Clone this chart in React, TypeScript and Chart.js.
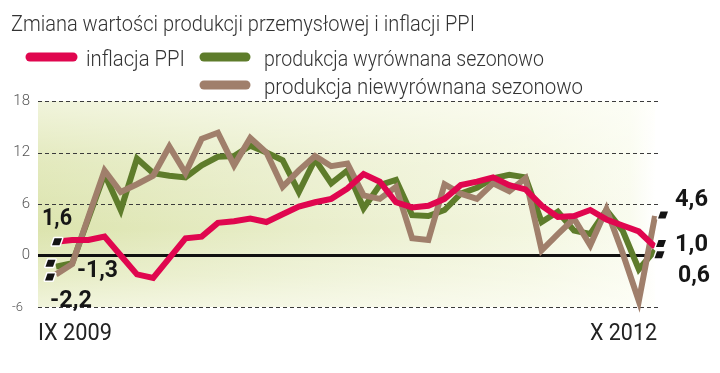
import React, { useEffect, useRef } from "react";
import { Chart, registerables } from "chart.js";

Chart.register(...registerables);

const TITLE = "Zmiana wartości produkcji przemysłowej i inflacji PPI";

const MONTHS = [
  "IX 2009", "X 2009", "XI 2009", "XII 2009",
  "I 2010", "II 2010", "III 2010", "IV 2010", "V 2010", "VI 2010",
  "VII 2010", "VIII 2010", "IX 2010", "X 2010", "XI 2010", "XII 2010",
  "I 2011", "II 2011", "III 2011", "IV 2011", "V 2011", "VI 2011",
  "VII 2011", "VIII 2011", "IX 2011", "X 2011", "XI 2011", "XII 2011",
  "I 2012", "II 2012", "III 2012", "IV 2012", "V 2012", "VI 2012",
  "VII 2012", "VIII 2012", "IX 2012", "X 2012",
];

const PPI = [
  1.6, 1.8, 1.8, 2.2, 0.0, -2.2, -2.6, -0.3, 2.0, 2.2,
  3.8, 4.0, 4.3, 3.9, 4.8, 5.7, 6.2, 6.6, 7.8, 9.5,
  8.6, 6.2, 5.6, 5.8, 6.6, 8.2, 8.6, 9.1, 8.2, 7.7,
  5.8, 4.5, 4.6, 5.3, 4.2, 3.5, 2.8, 1.0,
];

const PROD_SA = [
  -1.3, -0.9, 4.3, 9.5, 5.3, 11.3, 9.6, 9.3, 9.1, 10.5,
  11.5, 11.6, 12.8, 12.0, 11.1, 7.4, 11.2, 8.4, 9.9, 5.5,
  8.2, 8.8, 4.7, 4.6, 5.3, 7.2, 7.9, 9.0, 9.4, 9.1,
  3.9, 5.1, 2.9, 2.5, 5.3, 2.9, -1.6, 0.6,
];

const PROD_NSA = [
  -2.2, -1.0, 4.5, 9.9, 7.4, 8.3, 9.3, 12.7, 9.6, 13.6,
  14.3, 10.5, 13.7, 12.0, 8.0, 9.9, 11.6, 10.4, 10.7, 7.0,
  6.6, 8.0, 2.0, 1.8, 8.3, 7.2, 6.6, 8.4, 7.5, 9.0,
  0.6, 2.5, 4.3, 1.2, 5.4, 0.3, -5.3, 4.6,
];

const Y_TICKS = [-6, 0, 6, 12, 18];

const SERIES_NAMES = [
  "inflacja PPI",
  "produkcja wyrównana sezonowo",
  "produkcja niewyrównana sezonowo",
];

const RED = "#e0064f";
const GREEN = "#5e7c2b";
const BROWN = "#a07f6b";

function fitText(
  ctx: CanvasRenderingContext2D,
  text: string,
  x: number,
  y: number,
  font: string,
  width: number,
  color: string,
  align: "left" | "right" | "center" = "left"
) {
  ctx.save();
  ctx.font = font;
  const w = ctx.measureText(text).width || 1;
  const s = width / w;
  const left = align === "left" ? x : align === "right" ? x - width : x - width / 2;
  ctx.fillStyle = color;
  ctx.textAlign = "left";
  ctx.textBaseline = "alphabetic";
  ctx.translate(left, y);
  ctx.scale(s, 1);
  ctx.fillText(text, 0, 0);
  ctx.restore();
}

function fmt(v: number) {
  return v.toFixed(1).replace(".", ",");
}

function marker(ctx: CanvasRenderingContext2D, cx: number, cy: number) {
  ctx.save();
  ctx.beginPath();
  ctx.moveTo(cx - 2.5, cy - 3.5);
  ctx.lineTo(cx + 5, cy - 3.5);
  ctx.lineTo(cx + 2.5, cy + 3.5);
  ctx.lineTo(cx - 5, cy + 3.5);
  ctx.closePath();
  ctx.lineJoin = "round";
  ctx.lineWidth = 3;
  ctx.strokeStyle = "#ffffff";
  ctx.stroke();
  ctx.fillStyle = "#141414";
  ctx.fill();
  ctx.restore();
}

const decorPlugin = {
  id: "decor",
  beforeDatasetsDraw(chart: any) {
    const { ctx, chartArea } = chart;
    const ys = chart.scales.y;
    const gl = 38;
    const gr = 658;
    const top = ys.getPixelForValue(Y_TICKS[Y_TICKS.length - 1]);
    const bottom = ys.getPixelForValue(Y_TICKS[0]);
    ctx.save();
    // background
    const hg = ctx.createLinearGradient(gl, 0, chartArea.right, 0);
    hg.addColorStop(0, "#dce4ae");
    hg.addColorStop(0.45, "#e9eecb");
    hg.addColorStop(0.8, "#f3f6df");
    hg.addColorStop(0.96, "#f9fbee");
    hg.addColorStop(1, "#ffffff");
    ctx.fillStyle = hg;
    ctx.fillRect(gl, top, chartArea.right - gl, bottom - top);
    const vg = ctx.createLinearGradient(0, top, 0, bottom);
    vg.addColorStop(0, "rgba(255,255,250,0.6)");
    vg.addColorStop(0.3, "rgba(255,255,250,0.2)");
    vg.addColorStop(0.62, "rgba(255,255,255,0)");
    vg.addColorStop(0.85, "rgba(255,255,250,0.3)");
    vg.addColorStop(1, "rgba(255,255,250,0.6)");
    ctx.fillStyle = vg;
    ctx.fillRect(gl, top, chartArea.right - gl, bottom - top);

    // grid
    ctx.setLineDash([4, 3]);
    ctx.strokeStyle = "#3b3b3b";
    ctx.lineWidth = 1.2;
    for (const t of Y_TICKS) {
      if (t === 0) continue;
      const py = Math.round(ys.getPixelForValue(t)) + 0.5;
      ctx.beginPath();
      ctx.moveTo(gl, py);
      ctx.lineTo(gr, py);
      ctx.stroke();
    }
    ctx.setLineDash([]);
    const zy = ys.getPixelForValue(0);
    ctx.strokeStyle = "#111111";
    ctx.lineWidth = 3;
    ctx.beginPath();
    ctx.moveTo(gl, zy);
    ctx.lineTo(chartArea.right, zy);
    ctx.stroke();

    // y tick labels
    for (const t of Y_TICKS) {
      const py = ys.getPixelForValue(t);
      const small = t < 0;
      ctx.font = small ? "300 13px Roboto" : "300 15px Roboto";
      ctx.fillStyle = "#555555";
      ctx.textAlign = "right";
      ctx.textBaseline = "middle";
      ctx.fillText(String(t), small ? 23 : 30, py + (small ? 1 : 0));
    }

    // title
    fitText(ctx, TITLE, 11, 31, "300 22px Roboto", 464, "#333333");

    // legend
    ctx.lineCap = "round";
    ctx.lineWidth = 9;
    const sw = [
      { c: RED, x1: 30, x2: 73, y: 57 },
      { c: GREEN, x1: 204, x2: 246, y: 57 },
      { c: BROWN, x1: 204, x2: 246, y: 85 },
    ];
    for (const s of sw) {
      ctx.strokeStyle = s.c;
      ctx.beginPath();
      ctx.moveTo(s.x1, s.y);
      ctx.lineTo(s.x2, s.y);
      ctx.stroke();
    }
    fitText(ctx, SERIES_NAMES[0], 86, 66, "300 22px Roboto", 99, "#333333");
    fitText(ctx, SERIES_NAMES[1], 264, 66, "300 22px Roboto", 280, "#333333");
    fitText(ctx, SERIES_NAMES[2], 264, 94, "300 22px Roboto", 319, "#333333");

    // x labels
    fitText(ctx, MONTHS[0], 38, 340, "400 23px Roboto", 74, "#222222");
    fitText(ctx, MONTHS[MONTHS.length - 1], 657, 340, "400 23px Roboto", 67, "#222222", "right");
    ctx.restore();
  },
  afterDatasetsDraw(chart: any) {
    const { ctx } = chart;
    const xs = chart.scales.x;
    const ys = chart.scales.y;
    const n = MONTHS.length - 1;
    const x0 = xs.getPixelForValue(0);
    const xn = xs.getPixelForValue(n);
    // start markers
    marker(ctx, x0 + 1, ys.getPixelForValue(PPI[0]));
    marker(ctx, x0 - 5.5, ys.getPixelForValue(PROD_SA[0]) - 3.5);
    marker(ctx, x0 - 6, ys.getPixelForValue(PROD_NSA[0]) + 2.5);
    // end markers
    marker(ctx, xn + 8, ys.getPixelForValue(PROD_NSA[n]) - 1);
    marker(ctx, xn + 6, ys.getPixelForValue(PPI[n]) - 3.5);
    marker(ctx, xn + 4.5, ys.getPixelForValue(PROD_SA[n]) + 4.5);

    const bf = "700 24px Roboto";
    const col = "#161616";
    fitText(ctx, fmt(PPI[0]), x0 + 1, ys.getPixelForValue(PPI[0]) - 17, bf, 30, col, "center");
    fitText(ctx, fmt(PROD_SA[0]), x0 + 21, ys.getPixelForValue(PROD_SA[0]) + 10, bf, 41, col);
    fitText(ctx, fmt(PROD_NSA[0]), x0 - 6, ys.getPixelForValue(PROD_NSA[0]) + 33, bf, 42, col);
    fitText(ctx, fmt(PROD_NSA[n]), xn + 20, ys.getPixelForValue(PROD_NSA[n]) - 10, bf, 33, col);
    fitText(ctx, fmt(PPI[n]), xn + 20, ys.getPixelForValue(PPI[n]) + 4, bf, 33, col);
    fitText(ctx, fmt(PROD_SA[n]), xn + 23, ys.getPixelForValue(PROD_SA[n]) + 32, bf, 32, col);
  },
};

export default function App() {
  const ref = useRef<HTMLCanvasElement | null>(null);
  useEffect(() => {
    document.body.style.margin = "0";
    const canvas = ref.current;
    if (!canvas) return;
    const lineDs = (label: string, data: number[], color: string) => ({
      label,
      data,
      borderColor: color,
      backgroundColor: color,
      borderWidth: 6,
      pointRadius: 0,
      tension: 0,
      borderJoinStyle: "miter" as const,
      borderCapStyle: "butt" as const,
      fill: false,
      clip: false as const,
    });
    const chart = new Chart(canvas, {
      type: "line",
      data: {
        labels: MONTHS,
        datasets: [
          lineDs(SERIES_NAMES[0], PPI, RED),
          lineDs(SERIES_NAMES[2], PROD_NSA, BROWN),
          lineDs(SERIES_NAMES[1], PROD_SA, GREEN),
        ],
      },
      options: {
        responsive: false,
        animation: false,
        devicePixelRatio: 1,
        layout: { padding: { left: 56, right: 65, top: 101, bottom: 66 } },
        scales: {
          x: { type: "category", display: false, offset: false },
          y: { type: "linear", display: false, min: Y_TICKS[0], max: Y_TICKS[Y_TICKS.length - 1] },
        },
        plugins: {
          legend: { display: false },
          tooltip: { enabled: false },
          title: { display: false },
        },
        events: [],
      },
      plugins: [decorPlugin],
    });
    return () => chart.destroy();
  }, []);
  return (
    <div style={{ width: 720, height: 373, background: "#ffffff" }}>
      <canvas ref={ref} width={720} height={373} style={{ display: "block" }} />
    </div>
  );
}
